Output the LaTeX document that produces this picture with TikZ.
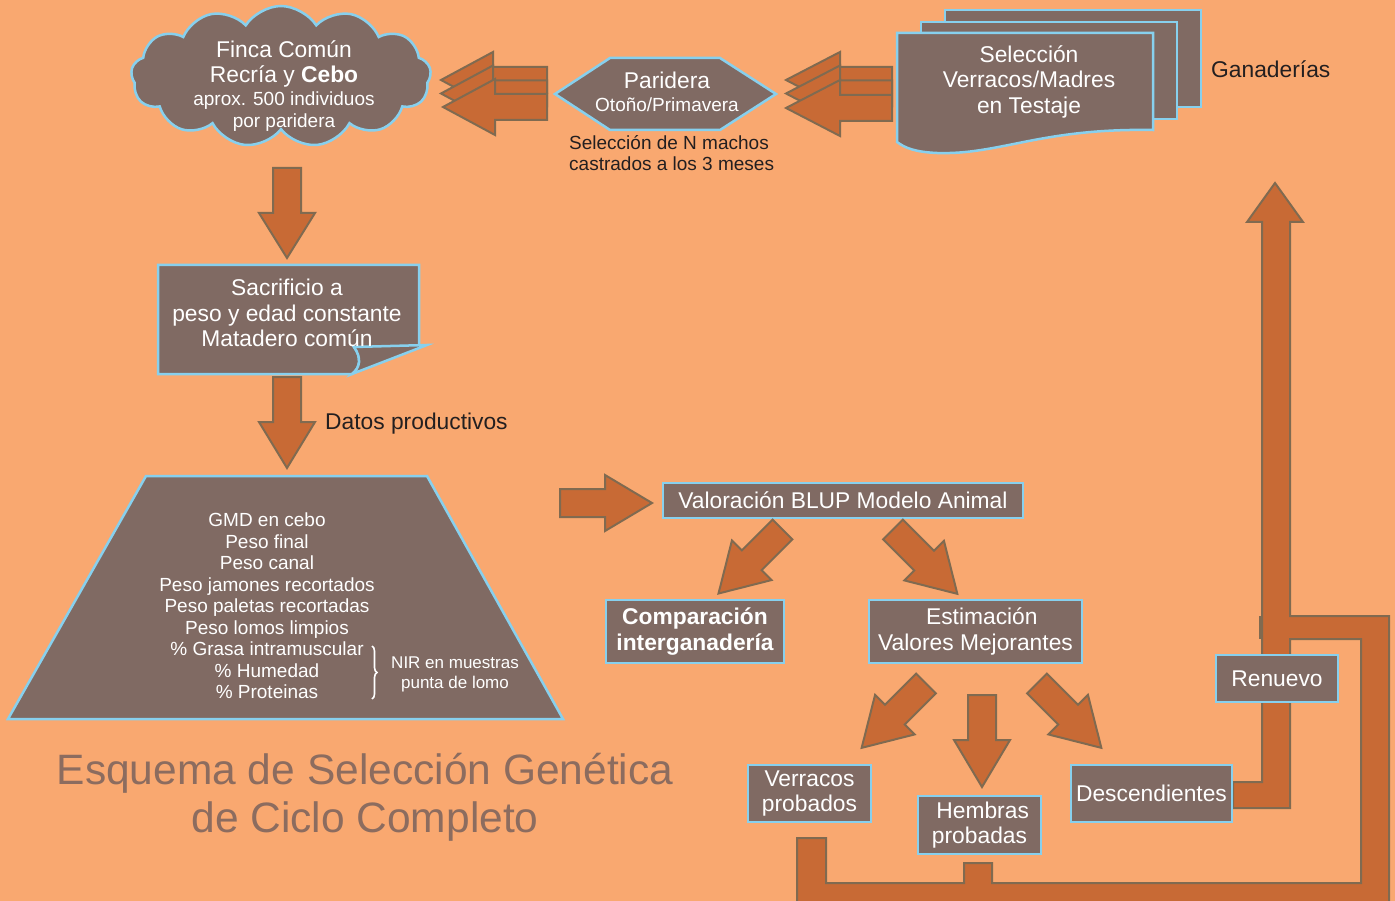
\documentclass[tikz,border=0pt]{standalone}
\usepackage{fontspec}
\setmainfont{Liberation Sans}
\usetikzlibrary{shapes.symbols,decorations.pathreplacing}
\definecolor{bgc}{RGB}{249,168,112}
\definecolor{boxc}{RGB}{128,106,99}
\definecolor{bluec}{RGB}{135,208,238}
\definecolor{arrf}{RGB}{200,106,53}
\definecolor{arrl}{RGB}{128,106,80}
\definecolor{darkt}{RGB}{35,31,32}
\definecolor{titlec}{RGB}{140,108,95}
\newcommand\barrow[7]{% x y angle length shafthalf headhalf headlen
  \begin{scope}[shift={(#1,#2)},rotate=#3]
    \draw[barr] (0,-#5) -- ({#4-#7},-#5) -- ({#4-#7},-#6) -- (#4,0) -- ({#4-#7},#6) -- ({#4-#7},#5) -- (0,#5) -- cycle;
  \end{scope}}
\tikzset{
  box/.style={fill=boxc, draw=bluec, line width=2.5pt, text=white, align=center, inner sep=0pt,
    font=\fontsize{22.8}{25.5}\selectfont},
  shapebox/.style={fill=boxc, draw=bluec, line width=2.5pt, line join=miter},
  barr/.style={fill=arrf, draw=arrl, line width=2pt, line join=miter},
  wtext/.style={text=white, align=center, inner sep=0pt, font=\fontsize{22.8}{25.5}\selectfont},
  dtext/.style={text=darkt, inner sep=0pt, font=\fontsize{22.8}{25.5}\selectfont},
}
\begin{document}
\begin{tikzpicture}[x=1pt,y=-1pt]
\fill[bgc] (0,0) rectangle (1395,901);
\useasboundingbox (0,0) rectangle (1395,901);

% ---- pipes (renewal loop) ----
\draw[barr] (1275,183) -- (1303,222) -- (1290,222) -- (1290,616) -- (1389,616) -- (1389,912)
  -- (797,912) -- (797,838) -- (826,838) -- (826,883) -- (964,883) -- (964,863) -- (992,863)
  -- (992,883) -- (1361,883) -- (1361,639) -- (1290,639) -- (1290,808) -- (1233,808)
  -- (1233,782) -- (1262,782) -- (1262,222) -- (1247,222) -- cycle;
\draw[arrl, line width=1.5pt] (1260,616) -- (1260,639);

% ---- cloud ----
\node[cloud, cloud puffs=13, cloud puff arc=115, aspect=2.1, fill=boxc, draw=bluec, line width=2.5pt,
      minimum width=300pt, minimum height=141pt] (finca) at (281,76.5) {};
\node[wtext] (fincatxt) at (284,86) {Finca Común\\Recría y \textbf{Cebo}\\[-3pt]
  {\fontsize{19}{23}\selectfont aprox. 500 individuos}\\[-3pt]{\fontsize{19}{23}\selectfont por paridera}};

% ---- triple arrows top ----
\barrow{547}{80}{180}{106}{13}{28}{52}
\barrow{547}{93.5}{180}{106}{13}{28}{52}
\barrow{547}{107}{180}{104}{13}{28}{52}
\barrow{892}{80}{180}{106}{13}{28}{54}
\barrow{892}{93.5}{180}{106}{13}{28}{54}
\barrow{892}{108}{180}{106}{13}{28}{54}

% ---- paridera hexagon ----
\draw[shapebox] (555,94) -- (610,58) -- (720,58) -- (776,94) -- (720,130) -- (610,130) -- cycle;
\node[wtext] (paridera) at (667,92) {Paridera\\[-2pt]{\fontsize{19}{22}\selectfont Otoño/Primavera}};
\node[dtext, anchor=north west, align=left, font=\fontsize{19}{21}\selectfont] (selN) at (569,135.5)
  {Selección de N machos\\castrados a los 3 meses};

% ---- document stack ----
\draw[shapebox] (945,10) rectangle (1201,107);
\draw[shapebox] (921,22) rectangle (1177,119);
\draw[shapebox] (897,33) -- (1153,33) -- (1153,130) .. controls (1040,128) and (1000,155) .. (937,153)
  .. controls (915,152) and (905,148) .. (897,142) -- cycle;
\node[wtext] (testaje) at (1029,81.5) {Selección\\Verracos/Madres\\en Testaje};
\node[dtext, anchor=west] (ganad) at (1211,69.5) {Ganaderías};

% ---- down arrow 1 ----
\barrow{287}{168}{-90}{90}{14}{28}{45}

% ---- sacrificio ----
\draw[shapebox] (158,265) -- (419,265) -- (419,347) -- (354,347) .. controls (362,358) and (360,368) .. (352,374)
  -- (158,374) -- cycle;
\draw[shapebox] (354,347) -- (427,345) -- (352,374) .. controls (360,368) and (362,358) .. (354,347) -- cycle;
\node[wtext] (sacr) at (287,313) {Sacrificio a\\peso y edad constante\\Matadero común};

% ---- down arrow 2 ----
\barrow{287}{377}{-90}{91}{14}{28}{46}
\node[dtext, anchor=west] (datos) at (325,424) {Datos productivos};

% ---- trapezoid ----
\draw[shapebox] (146,476) -- (427,476) -- (563,719) -- (8,719) -- cycle;
\node[wtext, font=\fontsize{19}{21.5}\selectfont] (datalist) at (267,606)
  {GMD en cebo\\Peso final\\Peso canal\\Peso jamones recortados\\Peso paletas recortadas\\Peso lomos limpios\\
   \% Grasa intramuscular\\\% Humedad\\\% Proteinas};
\draw[white, line width=1.6pt, decorate, decoration={brace, amplitude=5pt}] (372,646) -- (372,699);
\node[wtext, font=\fontsize{17}{20}\selectfont] (nir) at (455,674) {NIR en muestras\\punta de lomo};

% ---- title ----
\node[text=titlec, align=center, inner sep=0pt, font=\fontsize{42.5}{48}\selectfont] (title) at (365,797)
  {Esquema de Selección Genética\\de Ciclo Completo};

% ---- BLUP ----
\barrow{560}{503}{0}{92}{14}{28}{47}
\node[box, minimum width=360pt, minimum height=35pt] (blup) at (843,500.5) {Valoración BLUP Modelo Animal};
\barrow{782.5}{529.5}{-135}{90.5}{14}{28}{47}
\barrow{893}{529.5}{-45}{91}{14}{28}{47}
\node[box, minimum width=178pt, minimum height=63pt, font=\bfseries\fontsize{22.8}{25.5}\selectfont] (comp) at (695,631.5)
  {Comparación\\interganadería};
\node[box, minimum width=213pt, minimum height=63pt] (estim) at (975.5,631.5) {\ \ Estimación\\Valores Mejorantes};

% ---- three arrows from estimacion ----
\barrow{926}{683.5}{-135}{91}{14}{28}{47}
\barrow{982}{695}{-90}{92}{14}{28}{47}
\barrow{1037}{683.5}{-45}{91}{14}{28}{47}

\node[box, minimum width=123pt, minimum height=57pt] (verr) at (809.5,793.5) {Verracos\\probados};
\node[box, minimum width=123pt, minimum height=58pt] (hemb) at (979.5,825) {\ Hembras\\probadas};
\node[box, minimum width=161pt, minimum height=57pt] (desc) at (1151.5,793.5) {Descendientes};
\node[box, minimum width=122pt, minimum height=47pt] (renuevo) at (1277,678.5) {Renuevo};
\end{tikzpicture}
\end{document}
